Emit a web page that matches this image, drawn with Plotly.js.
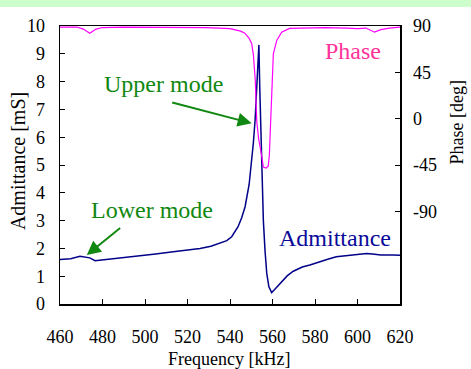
<!DOCTYPE html>
<html>
<head>
<meta charset="utf-8">
<script src="https://cdn.plot.ly/plotly-3.0.1.min.js"></script>
<style>
  html, body { margin: 0; padding: 0; background: #ffffff; }
  #wrap { position: relative; width: 471px; height: 369px; }
  #band { position: absolute; left: 0; top: 0; width: 471px; height: 7px; background: #ccffcc; z-index: 5; pointer-events: none; }
  #chart { position: absolute; left: 0; top: 0; width: 471px; height: 369px; }
</style>
</head>
<body>
<div id="wrap"><div id="chart"></div><div id="band"></div></div>
<script>
// Admittance [mS] vs frequency [kHz]
const admFreq = [460, 465, 469.4, 471.8, 474, 476.5, 479, 482, 490, 497.6, 505, 513.3, 520, 525.9, 531, 535.3, 538.5, 540.8, 543.8, 545.5, 547.1, 549, 550.2, 551, 551.8, 552.7, 553.3, 553.6, 554.0, 554.5, 554.9, 555.7, 556.5, 557.3, 558.3, 559.6, 561, 563, 565, 567, 569.8, 572, 574, 577.6, 582, 586, 590, 595, 600, 604.3, 607, 611, 616.8, 620];
const admVal  = [1.60, 1.63, 1.72, 1.70, 1.66, 1.56, 1.58, 1.61, 1.66, 1.73, 1.80, 1.88, 1.94, 2.00, 2.08, 2.18, 2.28, 2.42, 2.78, 3.10, 3.50, 4.30, 5.07, 5.80, 6.60, 7.80, 8.80, 9.32, 7.80, 6.30, 5.07, 3.00, 1.90, 1.10, 0.62, 0.41, 0.52, 0.70, 0.88, 1.02, 1.18, 1.27, 1.33, 1.40, 1.52, 1.61, 1.70, 1.74, 1.78, 1.82, 1.80, 1.76, 1.76, 1.75];

// Phase [deg] vs frequency [kHz]
const phFreq = [460, 468, 471, 474, 477, 480, 490, 500, 510, 520, 528, 535, 540, 545, 547, 549, 550.2, 551, 551.9, 552.6, 553.5, 554.9, 555.7, 557, 558, 558.5, 559.1, 559.6, 560.4, 562, 564.3, 568, 575, 585, 595, 600, 604, 608, 611, 615, 620];
const phVal  = [89, 89, 87, 83, 87, 88.5, 89, 89, 89, 89, 88.5, 88, 87.5, 85, 83, 78, 73, 62, 37, -3, -20, -36, -47, -48, -46, -36, -3, 30, 63, 76, 84, 87.7, 88, 88.5, 88, 87.5, 88, 84, 86.5, 88, 89];

const xTicks = [460, 480, 500, 520, 540, 560, 580, 600, 620];
const yTicks = [0, 1, 2, 3, 4, 5, 6, 7, 8, 9, 10];
const y2Ticks = [-90, -45, 0, 45, 90];

const xTitle = 'Frequency [kHz]';
const yTitle = 'Admittance [mS]';
const y2Title = 'Phase [deg]';

const FONT = '"Liberation Serif", "Times New Roman", serif';

const traces = [
  { x: phFreq, y: phVal, yaxis: 'y2', type: 'scatter', mode: 'lines',
    line: { color: '#ff00ff', width: 1.2 }, hoverinfo: 'skip' },
  { x: admFreq, y: admVal, yaxis: 'y', type: 'scatter', mode: 'lines',
    line: { color: '#000088', width: 1.5 }, hoverinfo: 'skip' }
];

const axisCommon = {
  showgrid: false, zeroline: false, showline: true, linecolor: '#000000', linewidth: 1.5,
  ticks: 'inside', ticklen: 5, tickwidth: 1, tickcolor: '#000000', automargin: false,
  tickfont: { family: FONT, size: 18, color: '#000000' }
};

const layout = {
  width: 471, height: 369,
  margin: { l: 60, r: 71, t: 26, b: 65 },
  paper_bgcolor: '#ffffff', plot_bgcolor: '#ffffff',
  showlegend: false,
  font: { family: FONT, size: 18, color: '#000000' },
  xaxis: Object.assign({}, axisCommon, {
    range: [460, 620], tickvals: xTicks, ticktext: xTicks.map(String), mirror: true,
    ticklabelstandoff: 16
  }),
  yaxis: Object.assign({}, axisCommon, {
    range: [0, 10], tickvals: yTicks, ticktext: yTicks.map(String), mirror: true,
    ticklabelstandoff: 10
  }),
  yaxis2: Object.assign({}, axisCommon, {
    range: [-180, 90], tickvals: y2Ticks, ticktext: y2Ticks.map(String),
    overlaying: 'y', side: 'right', ticklabelstandoff: 8
  }),
  annotations: [
    { x: 0.497, y: -0.197, xref: 'paper', yref: 'paper', text: xTitle, showarrow: false,
      xanchor: 'center', yanchor: 'middle', font: { family: FONT, size: 18, color: '#000' } },
    { x: -0.1235, y: 0.514, xref: 'paper', yref: 'paper', text: yTitle, showarrow: false, textangle: -90,
      xanchor: 'center', yanchor: 'middle', font: { family: FONT, size: 20, color: '#000' } },
    { x: 1.1676, y: 0.653, xref: 'paper', yref: 'paper', text: y2Title, showarrow: false, textangle: -90,
      xanchor: 'center', yanchor: 'middle', font: { family: FONT, size: 18, color: '#000' } },
    { x: 508.9, y: 7.91, xref: 'x', yref: 'y', text: 'Upper mode', showarrow: false,
      font: { family: FONT, size: 24, color: '#118811' } },
    { x: 503.5, y: 3.38, xref: 'x', yref: 'y', text: 'Lower mode', showarrow: false,
      font: { family: FONT, size: 24, color: '#118811' } },
    { x: 598.1, y: 9.1, xref: 'x', yref: 'y', text: 'Phase', showarrow: false,
      font: { family: FONT, size: 24, color: '#ff3399' } },
    { x: 589.4, y: 2.37, xref: 'x', yref: 'y', text: 'Admittance', showarrow: false,
      font: { family: FONT, size: 24, color: '#0a0a9a' } },
    { x: 550.2, y: 6.5, ax: 512.1, ay: 7.26, xref: 'x', yref: 'y', axref: 'x', ayref: 'y',
      text: '', showarrow: true, arrowhead: 2, arrowsize: 1.4, arrowwidth: 2, arrowcolor: '#118811' },
    { x: 472.6, y: 1.76, ax: 489.0, ay: 2.78, xref: 'x', yref: 'y', axref: 'x', ayref: 'y',
      text: '', showarrow: true, arrowhead: 2, arrowsize: 1.4, arrowwidth: 2, arrowcolor: '#118811' }
  ]
};

Plotly.newPlot('chart', traces, layout, { staticPlot: true, displayModeBar: false });
</script>
</body>
</html>
